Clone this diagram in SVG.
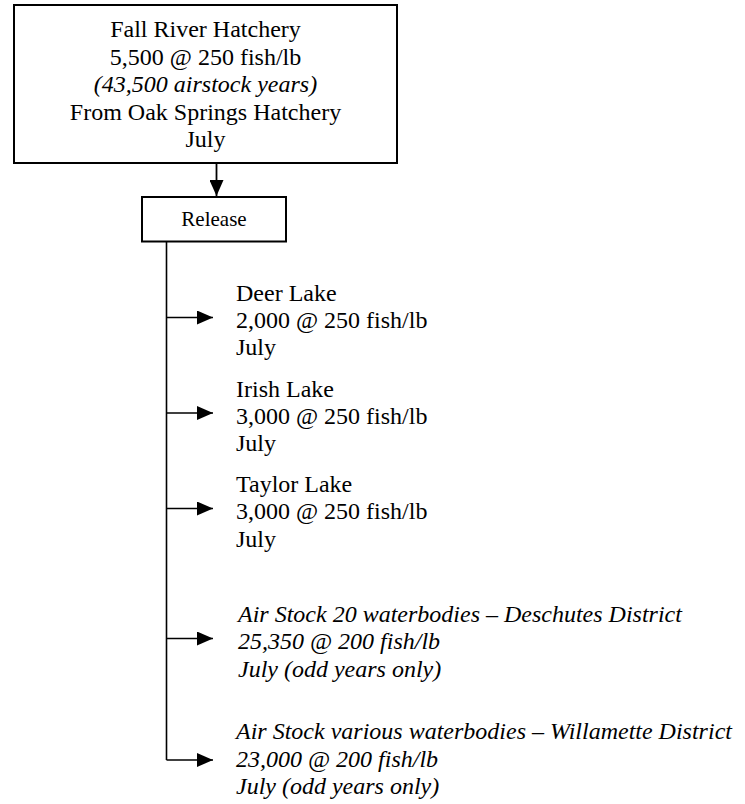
<svg xmlns="http://www.w3.org/2000/svg" width="745" height="804" viewBox="0 0 745 804">
  <style>
    .box { fill: #fff; stroke: #000; stroke-width: 2; }
    .txt { font-family: "Liberation Serif", "Times New Roman", serif; font-size: 24px; fill: #000; }
    .ctr { text-anchor: middle; }
    .it { font-style: italic; }
    .ln { fill: none; stroke: #000; stroke-width: 1.6; }
  </style>
  <defs>
    <marker id="head" markerUnits="userSpaceOnUse" viewBox="0 0 16 14" refX="16" refY="7" markerWidth="16" markerHeight="14" orient="auto">
      <path d="M0,0 L16,7 L0,14 Z" fill="#000"/>
    </marker>
  </defs>
  <rect width="745" height="804" fill="#fff"/>

  <g id="hatchery">
    <rect class="box" x="14" y="5" width="383" height="158"/>
    <text class="txt ctr" x="205.5" y="37">Fall River Hatchery</text>
    <text class="txt ctr" x="205.5" y="64.5">5,500 @ 250 fish/lb</text>
    <text class="txt ctr it" x="205.5" y="92">(43,500 airstock years)</text>
    <text class="txt ctr" x="205.5" y="119.5">From Oak Springs Hatchery</text>
    <text class="txt ctr" x="205.5" y="147">July</text>
  </g>

  <g id="release">
    <rect class="box" x="142" y="197" width="144" height="44.5"/>
    <text class="txt ctr" x="214" y="225.5" style="font-size:21px">Release</text>
  </g>

  <g id="connectors">
    <path class="ln" d="M216.5,164 V196" marker-end="url(#head)" style="stroke-width:1.8"/>
    <path class="ln" d="M166.5,242 V760"/>
    <path class="ln" d="M166.5,317.5 H213" marker-end="url(#head)"/>
    <path class="ln" d="M166.5,413 H213" marker-end="url(#head)"/>
    <path class="ln" d="M166.5,508.5 H213" marker-end="url(#head)"/>
    <path class="ln" d="M166.5,638.5 H213" marker-end="url(#head)"/>
    <path class="ln" d="M166.5,760 H213" marker-end="url(#head)"/>
  </g>

  <g id="deer-lake">
    <text class="txt" x="236" y="300.5">Deer Lake</text>
    <text class="txt" x="236" y="327.5">2,000 @ 250 fish/lb</text>
    <text class="txt" x="236" y="355">July</text>
  </g>

  <g id="irish-lake">
    <text class="txt" x="236" y="396.5">Irish Lake</text>
    <text class="txt" x="236" y="423.5">3,000 @ 250 fish/lb</text>
    <text class="txt" x="236" y="451">July</text>
  </g>

  <g id="taylor-lake">
    <text class="txt" x="236" y="492">Taylor Lake</text>
    <text class="txt" x="236" y="519">3,000 @ 250 fish/lb</text>
    <text class="txt" x="236" y="546.5">July</text>
  </g>

  <g id="deschutes">
    <text class="txt it" x="238" y="621.5">Air Stock 20 waterbodies – Deschutes District</text>
    <text class="txt it" x="238" y="649">25,350 @ 200 fish/lb</text>
    <text class="txt it" x="238" y="676.5">July (odd years only)</text>
  </g>

  <g id="willamette">
    <text class="txt it" x="236" y="739">Air Stock various waterbodies – Willamette District</text>
    <text class="txt it" x="236" y="766.5">23,000 @ 200 fish/lb</text>
    <text class="txt it" x="236" y="794">July (odd years only)</text>
  </g>
</svg>
